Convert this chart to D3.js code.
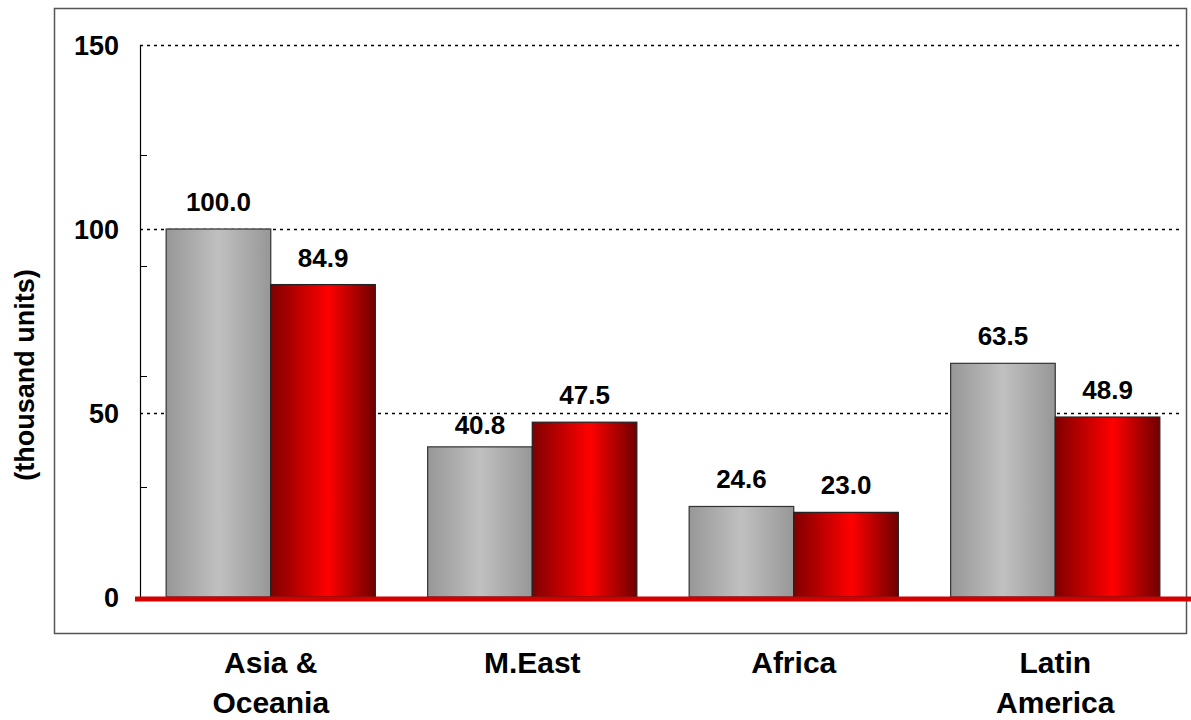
<!DOCTYPE html>
<html><head><meta charset="utf-8">
<script src="https://cdn.jsdelivr.net/npm/d3@7"></script>
<style>body{margin:0;background:#fff}text{font-family:"Liberation Sans",Arial,Helvetica,sans-serif;font-weight:bold;fill:#000}</style>
</head><body><svg id="c" width="1191" height="720"></svg>
<script>
const categories = [["Asia &","Oceania"],["M.East"],["Africa"],["Latin","America"]];
const series1 = [100.0, 40.8, 24.6, 63.5];
const series2 = [84.9, 47.5, 23.0, 48.9];
const gridTicks = [50, 100, 150];
const labelTicks = [0, 50, 100, 150];
const minorTicks = [30, 60, 90, 120];

(function(){
const svg = d3.select("#c");
const defs = svg.append("defs");
function grad(id, stops){
  const g = defs.append("linearGradient").attr("id", id).attr("x1","0%").attr("x2","100%").attr("y1","0%").attr("y2","0%");
  stops.forEach(s => g.append("stop").attr("offset", s[0]).attr("stop-color", s[1]));
}
grad("gGray", [["0%","#979797"],["50%","#c0c0c0"],["100%","#979797"]]);
grad("gRed", [["0%","#800000"],["55%","#ff0000"],["100%","#6e0000"]]);

const pL = 140, pR = 1186, pT = 45, pB = 597;
const y = d3.scaleLinear().domain([0,150]).range([pB, pT]);
const x = d3.scaleBand().domain(d3.range(categories.length)).range([pL, pR]).paddingInner(0.2).paddingOuter(0.1);
const xs = d3.scaleBand().domain([0,1]).range([0, x.bandwidth()]);

svg.append("rect").attr("x",54.5).attr("y",8.5).attr("width",1132).attr("height",625).attr("fill","none").attr("stroke","#555").attr("stroke-width",1.5);

svg.append("g").selectAll("line").data(gridTicks).join("line")
  .attr("x1", pL).attr("x2", 1183).attr("y1", d=>Math.round(y(d))+0.5).attr("y2", d=>Math.round(y(d))+0.5)
  .attr("stroke","#000").attr("stroke-width",1.5).attr("stroke-dasharray","3,4");

svg.append("g").selectAll("line").data(minorTicks).join("line")
  .attr("x1", pL).attr("x2", pL+7).attr("y1", d=>Math.round(y(d))+0.5).attr("y2", d=>Math.round(y(d))+0.5)
  .attr("stroke","#000").attr("stroke-width",1);

svg.append("line").attr("x1",pL+0.5).attr("x2",pL+0.5).attr("y1",pT).attr("y2",pB).attr("stroke","#000").attr("stroke-width",1.2);

svg.append("g").selectAll("text").data(labelTicks).join("text")
  .attr("x", 119).attr("y", d=>y(d)+10).attr("text-anchor","end").attr("font-size",27).text(d=>d);

svg.append("text").attr("transform","translate(34,375) rotate(-90)")
  .attr("text-anchor","middle").attr("font-size",27).text("(thousand units)");

const data = categories.map((c,i)=>({i, v:[series1[i], series2[i]]}));
const grp = svg.append("g").selectAll("g").data(data).join("g").attr("transform", d=>`translate(${x(d.i)},0)`);
grp.selectAll("rect").data(d=>d.v.map((v,k)=>({v,k}))).join("rect")
  .attr("x", d=>xs(d.k)).attr("width", xs.bandwidth())
  .attr("y", d=>y(d.v)).attr("height", d=>pB - y(d.v))
  .attr("fill", d=>d.k===0?"url(#gGray)":"url(#gRed)")
  .attr("stroke", d=>d.k===0?"#333":"#222").attr("stroke-width",1.2);
// label baseline: 18px above bar top, unless that would cross a gridline, then just below it
function labelY(v){
  let b = y(v) - 18;
  gridTicks.forEach(g => { const gy = y(g); if (gy > b - 20 && gy < b + 2) b = gy + 21; });
  return b;
}
grp.selectAll("text.val").data(d=>d.v.map((v,k)=>({v,k}))).join("text").attr("class","val")
  .attr("x", d=>xs(d.k)+xs.bandwidth()/2).attr("y", d=>labelY(d.v))
  .attr("text-anchor","middle").attr("font-size",26).text(d=>d.v.toFixed(1));

svg.append("line").attr("x1",135).attr("x2",1191).attr("y1",pB+2).attr("y2",pB+2).attr("stroke","#d40000").attr("stroke-width",5);

const cl = svg.append("g").selectAll("text").data(categories.map((c,i)=>({c,i}))).join("text")
  .attr("text-anchor","middle").attr("font-size",30)
  .attr("x", d=>x(d.i)+x.bandwidth()/2).attr("y", 673);
cl.selectAll("tspan").data(d=>d.c.map((t,j)=>({t,j,cx:x(d.i)+x.bandwidth()/2}))).join("tspan")
  .attr("x", d=>d.cx).attr("dy", d=>d.j===0?0:40).text(d=>d.t);
})();
</script></body></html>
